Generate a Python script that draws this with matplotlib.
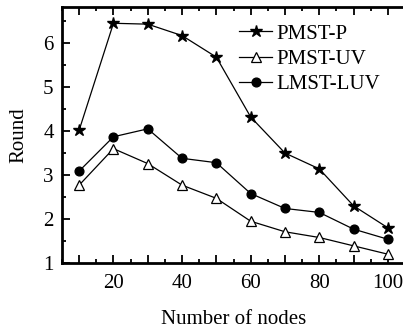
import numpy as np
import matplotlib
matplotlib.use('Agg')
import matplotlib.pyplot as plt
from matplotlib.ticker import MultipleLocator, FuncFormatter

nodes = [10, 20, 30, 40, 50, 60, 70, 80, 90, 100]
pmst_p = [4.02, 6.45, 6.43, 6.17, 5.68, 4.32, 3.50, 3.14, 2.30, 1.80]
pmst_uv = [2.77, 3.60, 3.26, 2.77, 2.47, 1.95, 1.71, 1.58, 1.39, 1.20]
lmst_luv = [3.09, 3.87, 4.05, 3.38, 3.28, 2.58, 2.24, 2.15, 1.77, 1.54]

plt.rcParams['font.family'] = ['Liberation Serif', 'DejaVu Serif']

fig = plt.figure(figsize=(4.03, 3.31), dpi=100)
ax = fig.add_axes([62 / 403, 68 / 331, 343 / 403, 256 / 331])

ax.plot(nodes, pmst_p, color='black', lw=0.9, marker='*', ms=9,
        mfc='black', mec='black', label='PMST-P')
ax.plot(nodes, pmst_uv, color='black', lw=0.9, marker='^', ms=7,
        mfc='white', mec='black', mew=0.9, label='PMST-UV')
ax.plot(nodes, lmst_luv, color='black', lw=0.9, marker='o', ms=6.3,
        mfc='black', mec='black', label='LMST-LUV')

ax.set_xlim(5, 105)
ax.set_ylim(1, 6.82)
ax.xaxis.set_major_locator(MultipleLocator(10))
ax.xaxis.set_minor_locator(MultipleLocator(5))
ax.xaxis.set_major_formatter(
    FuncFormatter(lambda v, p: f'{v:.0f}' if round(v) % 20 == 0 else ''))
ax.yaxis.set_major_locator(MultipleLocator(1))
ax.yaxis.set_minor_locator(MultipleLocator(0.5))

ax.tick_params(which='both', direction='in', top=True, right=False,
               width=1.3, labelsize=15)
ax.tick_params(which='major', length=6)
ax.tick_params(which='minor', length=3)
ax.tick_params(axis='x', which='major', pad=8)
ax.tick_params(axis='y', which='major', pad=6)
for s in ax.spines.values():
    s.set_linewidth(2)
ax.spines['right'].set_visible(False)

ax.set_xlabel('Number of nodes', fontsize=15, labelpad=12)
ax.set_ylabel('Round', fontsize=15, labelpad=11)

ax.legend(loc='upper left', bbox_to_anchor=(239 / 403, 1 - 24 / 331),
          bbox_transform=fig.transFigure, frameon=False,
          fontsize=15, handlelength=1.6, handletextpad=0.2,
          labelspacing=0.28, borderaxespad=0, borderpad=0)

fig.savefig('out.png', dpi=100)
